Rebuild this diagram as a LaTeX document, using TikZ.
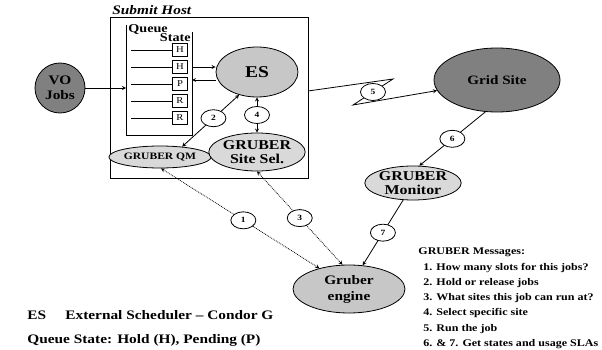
\documentclass[tikz,border=0pt]{standalone}
\usepackage{fontspec}
\setmainfont[FakeStretch=1.18]{Liberation Serif}
\usetikzlibrary{shapes.geometric}
\begin{document}
\begin{tikzpicture}[x=1pt, y=-1pt, thick, >=stealth,
  main node/.style={ellipse,draw,fill=black!22,inner sep=0pt,align=center,font=\bfseries\fontsize{13.5}{14}\selectfont},
  light node/.style={main node,fill=black!15},
  dark node/.style={main node,fill=black!50},
  num node/.style={ellipse,draw,solid,fill=white,inner sep=0pt,minimum width=25,minimum height=17,font=\bfseries\footnotesize},
  state node/.style={draw,minimum width=15,minimum height=13,inner sep=0pt,font=\fontsize{9}{9}\selectfont},
  key text/.style={anchor=base west,inner sep=0pt,font=\bfseries\fontsize{13}{15}\selectfont},
  msg text/.style={anchor=base west,inner sep=0pt,font=\bfseries\fontsize{10.2}{12}\selectfont}]

\useasboundingbox (0,0) rectangle (602,350);

% submit host and its queue
\node[draw,minimum width=198,minimum height=161,inner sep=0pt] (host) at (209,97.5) {};
\node[anchor=base west,inner sep=0pt,font=\bfseries\itshape\fontsize{13}{13}\selectfont] (host label) at (112,15) {Submit Host};
\draw (126,25) |- (192,135) -- (192,32);
\node[anchor=north west,inner sep=0pt,font=\bfseries\fontsize{12}{12}\selectfont] (queue) at (128,24) {Queue};
\node[anchor=north east,inner sep=0pt,font=\bfseries\fontsize{12}{12}\selectfont] (state) at (191,33) {State};
\foreach \y/\s [count=\i] in {50/H,67/H,84/P,101/R,118/R}{
  \node[state node] (s\i) at (180,\y) {\s};
  \draw (131,\y) -- (s\i);
}
\coordinate (qin) at (126,88);
\coordinate (qa) at (192,67);
\coordinate (qb) at (192,80);
\coordinate (z0) at (308,91);

\node[dark node,circle,minimum size=50,font=\bfseries\fontsize{13}{15}\selectfont] (vo) at (60,88) {VO\\Jobs};
\node[main node,minimum width=82,minimum height=50,font=\bfseries\fontsize{16.5}{16.5}\selectfont] (es) at (257,72) {ES};
\node[light node,minimum width=92,minimum height=22,font=\bfseries\fontsize{9.8}{10}\selectfont] (qm) at (160,157) {GRUBER QM};
\node[light node,minimum width=84,minimum height=38] (sel) at (257,152) {GRUBER\\Site Sel.};
\node[dark node,minimum width=126,minimum height=64,font=\bfseries\fontsize{12.8}{13}\selectfont] (grid) at (497,80) {Grid Site};
\node[light node,minimum width=92,minimum height=34] (mon) at (413,183) {GRUBER\\Monitor};
\node[main node,minimum width=112,minimum height=48,font=\bfseries\fontsize{13}{16}\selectfont] (engine) at (349,289) {Gruber\\engine};

\draw[->] (vo) -- (qin);
\draw[->] (qa) -- (qa -| es.west);
\draw[<-] (qb) -- (qb -| es.west);
\draw[<->] (es.232) -- node[num node,pos=0.45] {2} (qm.25);
\draw[<->] (es) -- node[num node] {4} (sel);
\draw[->] (z0) -- (393,79) -- node[num node] {5} (353,105) -- (grid.190);
\draw[->] (grid.250) -- node[num node] {6} (mon.70);
\draw[->] (mon.240) -- node[num node] {7} (engine.60);
\draw[<->,densely dotted] (qm.275) -- node[num node,pos=0.52] {1} (engine.145);
\draw[<->,densely dotted] (sel.south) -- node[num node] {3} (engine.105);

% legend
\node[key text] (es key) at (27,319) {ES};
\node[key text] (es name) at (65,319) {External Scheduler – Condor G};
\node[key text] (queue key) at (27,343) {Queue State: Hold (H), Pending (P)};

\node[msg text] (msg title) at (418,254) {GRUBER Messages:};
\foreach \m [count=\i] in {{1. How many slots for this jobs?},{2. Hold or release jobs},{3. What sites this job can run at?},{4. Select specific site},{5. Run the job},{6. \& 7. Get states and usage SLAs}}{
  \node[msg text] (msg\i) at (423,{270+(\i-1)*15.3}) {\m};
}
\end{tikzpicture}
\end{document}
